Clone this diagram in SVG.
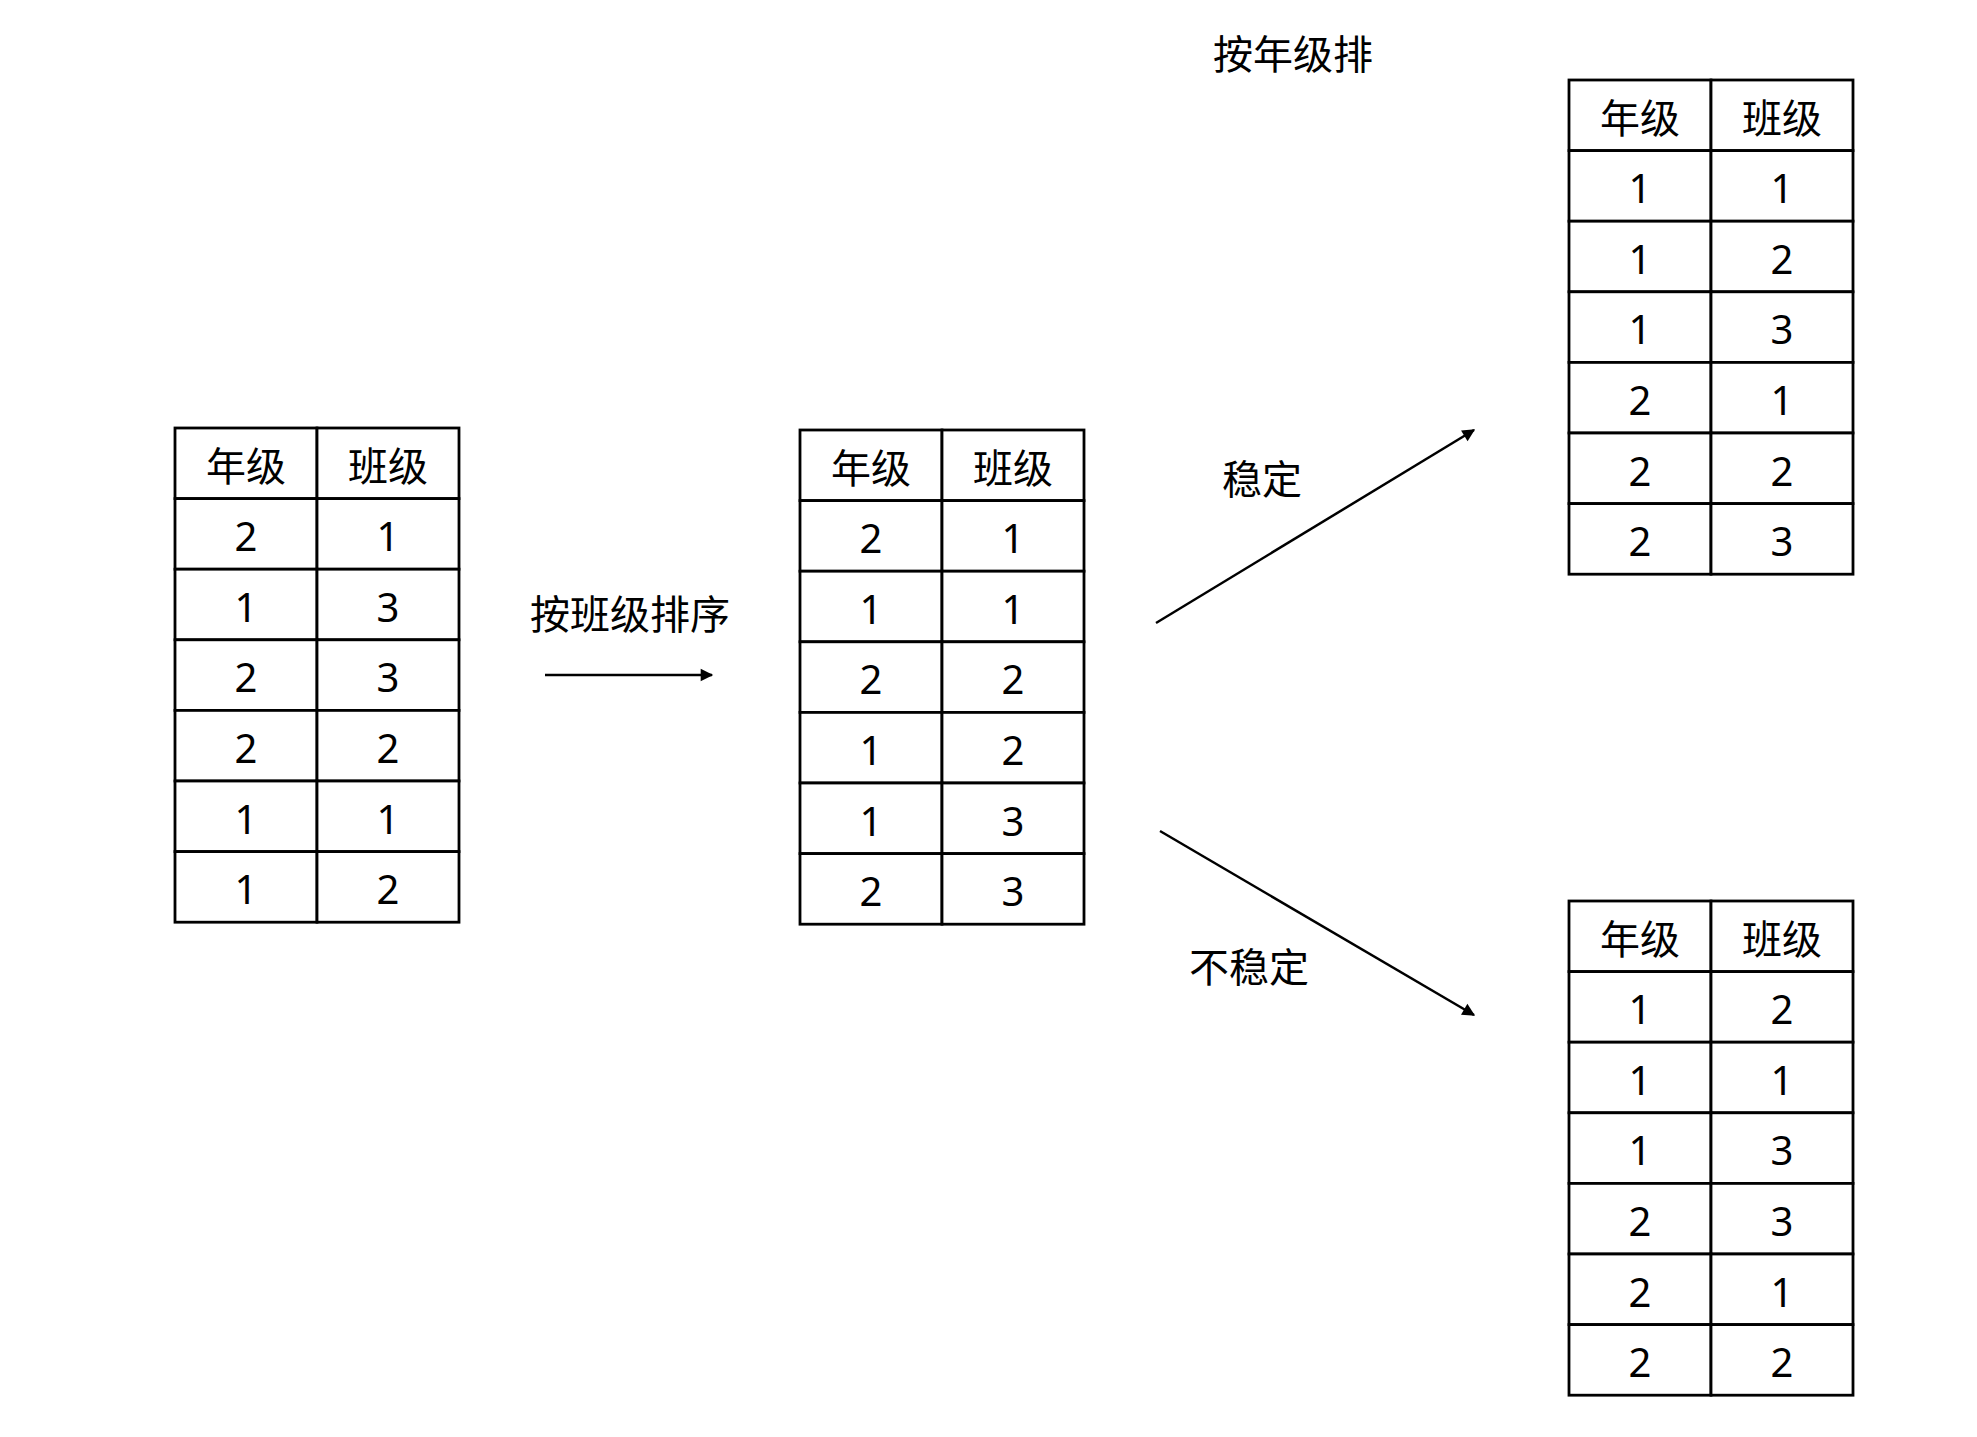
<svg xmlns="http://www.w3.org/2000/svg" width="1977" height="1437" viewBox="0 0 1977 1437">
<style>
.c{fill:#fff;stroke:#000;stroke-width:2.8}
.t{font-family:"Noto Sans","Noto Sans CJK SC",sans-serif;font-size:40px;text-anchor:middle;dominant-baseline:central;fill:#000}
.l{stroke:#000;stroke-width:2.5;fill:none;marker-end:url(#a)}
</style>
<defs>
<marker id="a" viewBox="0 0 10 10" refX="9" refY="5" markerWidth="7" markerHeight="7" orient="auto" markerUnits="userSpaceOnUse" style="overflow:visible"><path d="M0,0L10,5L0,10z" fill="#000" transform="scale(1.8) translate(-4,-2.2)"/></marker>
<g id="hdr"><rect class="c" x="0" y="0" width="142" height="70.6"/><rect class="c" x="142" y="0" width="142" height="70.6"/><text class="t" x="71" y="37">年级</text><text class="t" x="213" y="37">班级</text></g>
</defs>
<g id="table1" transform="translate(175,428)">
<use href="#hdr"/>
<g transform="translate(0,70.6)"><rect class="c" width="142" height="70.6"/><rect class="c" x="142" width="142" height="70.6"/><text class="t" x="71" y="37">2</text><text class="t" x="213" y="37">1</text></g>
<g transform="translate(0,141.2)"><rect class="c" width="142" height="70.6"/><rect class="c" x="142" width="142" height="70.6"/><text class="t" x="71" y="37">1</text><text class="t" x="213" y="37">3</text></g>
<g transform="translate(0,211.8)"><rect class="c" width="142" height="70.6"/><rect class="c" x="142" width="142" height="70.6"/><text class="t" x="71" y="37">2</text><text class="t" x="213" y="37">3</text></g>
<g transform="translate(0,282.4)"><rect class="c" width="142" height="70.6"/><rect class="c" x="142" width="142" height="70.6"/><text class="t" x="71" y="37">2</text><text class="t" x="213" y="37">2</text></g>
<g transform="translate(0,353)"><rect class="c" width="142" height="70.6"/><rect class="c" x="142" width="142" height="70.6"/><text class="t" x="71" y="37">1</text><text class="t" x="213" y="37">1</text></g>
<g transform="translate(0,423.6)"><rect class="c" width="142" height="70.6"/><rect class="c" x="142" width="142" height="70.6"/><text class="t" x="71" y="37">1</text><text class="t" x="213" y="37">2</text></g>
</g>
<g id="table2" transform="translate(800,430)">
<use href="#hdr"/>
<g transform="translate(0,70.6)"><rect class="c" width="142" height="70.6"/><rect class="c" x="142" width="142" height="70.6"/><text class="t" x="71" y="37">2</text><text class="t" x="213" y="37">1</text></g>
<g transform="translate(0,141.2)"><rect class="c" width="142" height="70.6"/><rect class="c" x="142" width="142" height="70.6"/><text class="t" x="71" y="37">1</text><text class="t" x="213" y="37">1</text></g>
<g transform="translate(0,211.8)"><rect class="c" width="142" height="70.6"/><rect class="c" x="142" width="142" height="70.6"/><text class="t" x="71" y="37">2</text><text class="t" x="213" y="37">2</text></g>
<g transform="translate(0,282.4)"><rect class="c" width="142" height="70.6"/><rect class="c" x="142" width="142" height="70.6"/><text class="t" x="71" y="37">1</text><text class="t" x="213" y="37">2</text></g>
<g transform="translate(0,353)"><rect class="c" width="142" height="70.6"/><rect class="c" x="142" width="142" height="70.6"/><text class="t" x="71" y="37">1</text><text class="t" x="213" y="37">3</text></g>
<g transform="translate(0,423.6)"><rect class="c" width="142" height="70.6"/><rect class="c" x="142" width="142" height="70.6"/><text class="t" x="71" y="37">2</text><text class="t" x="213" y="37">3</text></g>
</g>
<g id="table3" transform="translate(1569,80)">
<use href="#hdr"/>
<g transform="translate(0,70.6)"><rect class="c" width="142" height="70.6"/><rect class="c" x="142" width="142" height="70.6"/><text class="t" x="71" y="37">1</text><text class="t" x="213" y="37">1</text></g>
<g transform="translate(0,141.2)"><rect class="c" width="142" height="70.6"/><rect class="c" x="142" width="142" height="70.6"/><text class="t" x="71" y="37">1</text><text class="t" x="213" y="37">2</text></g>
<g transform="translate(0,211.8)"><rect class="c" width="142" height="70.6"/><rect class="c" x="142" width="142" height="70.6"/><text class="t" x="71" y="37">1</text><text class="t" x="213" y="37">3</text></g>
<g transform="translate(0,282.4)"><rect class="c" width="142" height="70.6"/><rect class="c" x="142" width="142" height="70.6"/><text class="t" x="71" y="37">2</text><text class="t" x="213" y="37">1</text></g>
<g transform="translate(0,353)"><rect class="c" width="142" height="70.6"/><rect class="c" x="142" width="142" height="70.6"/><text class="t" x="71" y="37">2</text><text class="t" x="213" y="37">2</text></g>
<g transform="translate(0,423.6)"><rect class="c" width="142" height="70.6"/><rect class="c" x="142" width="142" height="70.6"/><text class="t" x="71" y="37">2</text><text class="t" x="213" y="37">3</text></g>
</g>
<g id="table4" transform="translate(1569,901)">
<use href="#hdr"/>
<g transform="translate(0,70.6)"><rect class="c" width="142" height="70.6"/><rect class="c" x="142" width="142" height="70.6"/><text class="t" x="71" y="37">1</text><text class="t" x="213" y="37">2</text></g>
<g transform="translate(0,141.2)"><rect class="c" width="142" height="70.6"/><rect class="c" x="142" width="142" height="70.6"/><text class="t" x="71" y="37">1</text><text class="t" x="213" y="37">1</text></g>
<g transform="translate(0,211.8)"><rect class="c" width="142" height="70.6"/><rect class="c" x="142" width="142" height="70.6"/><text class="t" x="71" y="37">1</text><text class="t" x="213" y="37">3</text></g>
<g transform="translate(0,282.4)"><rect class="c" width="142" height="70.6"/><rect class="c" x="142" width="142" height="70.6"/><text class="t" x="71" y="37">2</text><text class="t" x="213" y="37">3</text></g>
<g transform="translate(0,353)"><rect class="c" width="142" height="70.6"/><rect class="c" x="142" width="142" height="70.6"/><text class="t" x="71" y="37">2</text><text class="t" x="213" y="37">1</text></g>
<g transform="translate(0,423.6)"><rect class="c" width="142" height="70.6"/><rect class="c" x="142" width="142" height="70.6"/><text class="t" x="71" y="37">2</text><text class="t" x="213" y="37">2</text></g>
</g>
<g id="connectors">
<line class="l" x1="545" y1="675" x2="712" y2="675"/>
<line class="l" x1="1156" y1="623" x2="1474" y2="430"/>
<line class="l" x1="1160" y1="831" x2="1474" y2="1015"/>
</g>
<g id="labels">
<text class="t" x="630" y="613">按班级排序</text>
<text class="t" x="1293" y="53">按年级排</text>
<text class="t" x="1262" y="478">稳定</text>
<text class="t" x="1249" y="966">不稳定</text>
</g>
</svg>
